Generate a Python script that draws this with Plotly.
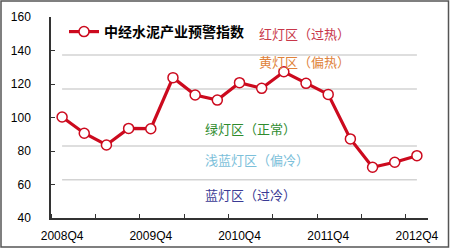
import plotly.graph_objects as go

quarters = ["2008Q4","2009Q1","2009Q2","2009Q3","2009Q4","2010Q1","2010Q2","2010Q3","2010Q4",
            "2011Q1","2011Q2","2011Q3","2011Q4","2012Q1","2012Q2","2012Q3","2012Q4"]
index_vals = [100.3, 90.6, 83.6, 93.5, 93.3, 123.8, 113.4, 110.4, 120.8,
              117.4, 127.3, 120.4, 113.8, 87.2, 70.3, 73.3, 77.2]
zone_bounds = [137.3, 117.0, 83.0, 62.8]
tick_label_idx = [0, 4, 8, 12, 16]
zone_labels = ["红灯区（过热）", "黄灯区（偏热）", "绿灯区（正常）", "浅蓝灯区（偏冷）", "蓝灯区（过冷）"]
zone_colors = ["#C8374A", "#E0823A", "#2E8B2E", "#7CC0DA", "#3A3A94"]
zone_x = [8.8, 8.8, 6.35, 6.35, 6.35]
zone_y = [150.4, 133.7, 93.7, 75.2, 54.3]

W, H = 450, 248
L, R, T, B = 51, 22, 17, 30
pw, ph = W - L - R, H - T - B

def px(xp):
    return (xp - L) / pw

def py(yp):
    return 1 - (yp - T) / ph

x = list(range(len(quarters)))
fig = go.Figure()
fig.add_trace(go.Scatter(
    x=x, y=index_vals, mode="lines+markers", name="中经水泥产业预警指数",
    line=dict(color="#CC0A1E", width=3.2),
    marker=dict(symbol="circle", size=10, color="white", line=dict(color="#CC0A1E", width=1.5)),
))

shapes = []
for b in zone_bounds:
    shapes.append(dict(type="line", xref="x", yref="y", x0=0, x1=len(quarters) - 1, y0=b, y1=b,
                       line=dict(color="#D3D3D3", width=1.5), layer="below"))
shapes.append(dict(type="rect", xref="paper", yref="paper", x0=px(1), x1=px(448.5), y0=py(1), y1=py(247),
                   line=dict(color="#555555", width=1.5)))

annotations = []
for t, c, ax, ay in zip(zone_labels, zone_colors, zone_x, zone_y):
    annotations.append(dict(x=ax, y=ay, xref="x", yref="y", text=t, showarrow=False, xanchor="left",
                            font=dict(size=13, color=c, family="Noto Sans CJK SC")))

fig.update_layout(
    width=W, height=H, margin=dict(l=L, r=R, t=T, b=B, autoexpand=False),
    paper_bgcolor="white", plot_bgcolor="white",
    font=dict(family="Liberation Sans, Arial, Noto Sans CJK SC", size=12, color="black"),
    showlegend=True,
    legend=dict(x=px(64), y=py(16), xanchor="left", yanchor="top", bgcolor="rgba(0,0,0,0)",
                font=dict(size=14, family="Noto Sans CJK SC", color="black", weight="bold"),
                itemwidth=30),
    shapes=shapes, annotations=annotations,
    xaxis=dict(range=[-0.5, len(quarters) - 0.5], tickmode="array", tickvals=[x[i] for i in tick_label_idx],
               ticktext=[quarters[i] for i in tick_label_idx], ticks="", showgrid=False, zeroline=False,
               showline=True, linecolor="#333333", linewidth=1.5, ticklabelstandoff=6, automargin=False,
               minor=dict(ticks="inside", tick0=-0.5, dtick=2, ticklen=4, tickcolor="#333333", showgrid=False)),
    yaxis=dict(range=[40, 160], dtick=20, ticks="inside", ticklen=4, tickcolor="#333333", showgrid=False,
               zeroline=False, showline=True, linecolor="#333333", linewidth=1.5, ticklabelstandoff=16,
               automargin=False),
)

fig.write_html("out.html")
